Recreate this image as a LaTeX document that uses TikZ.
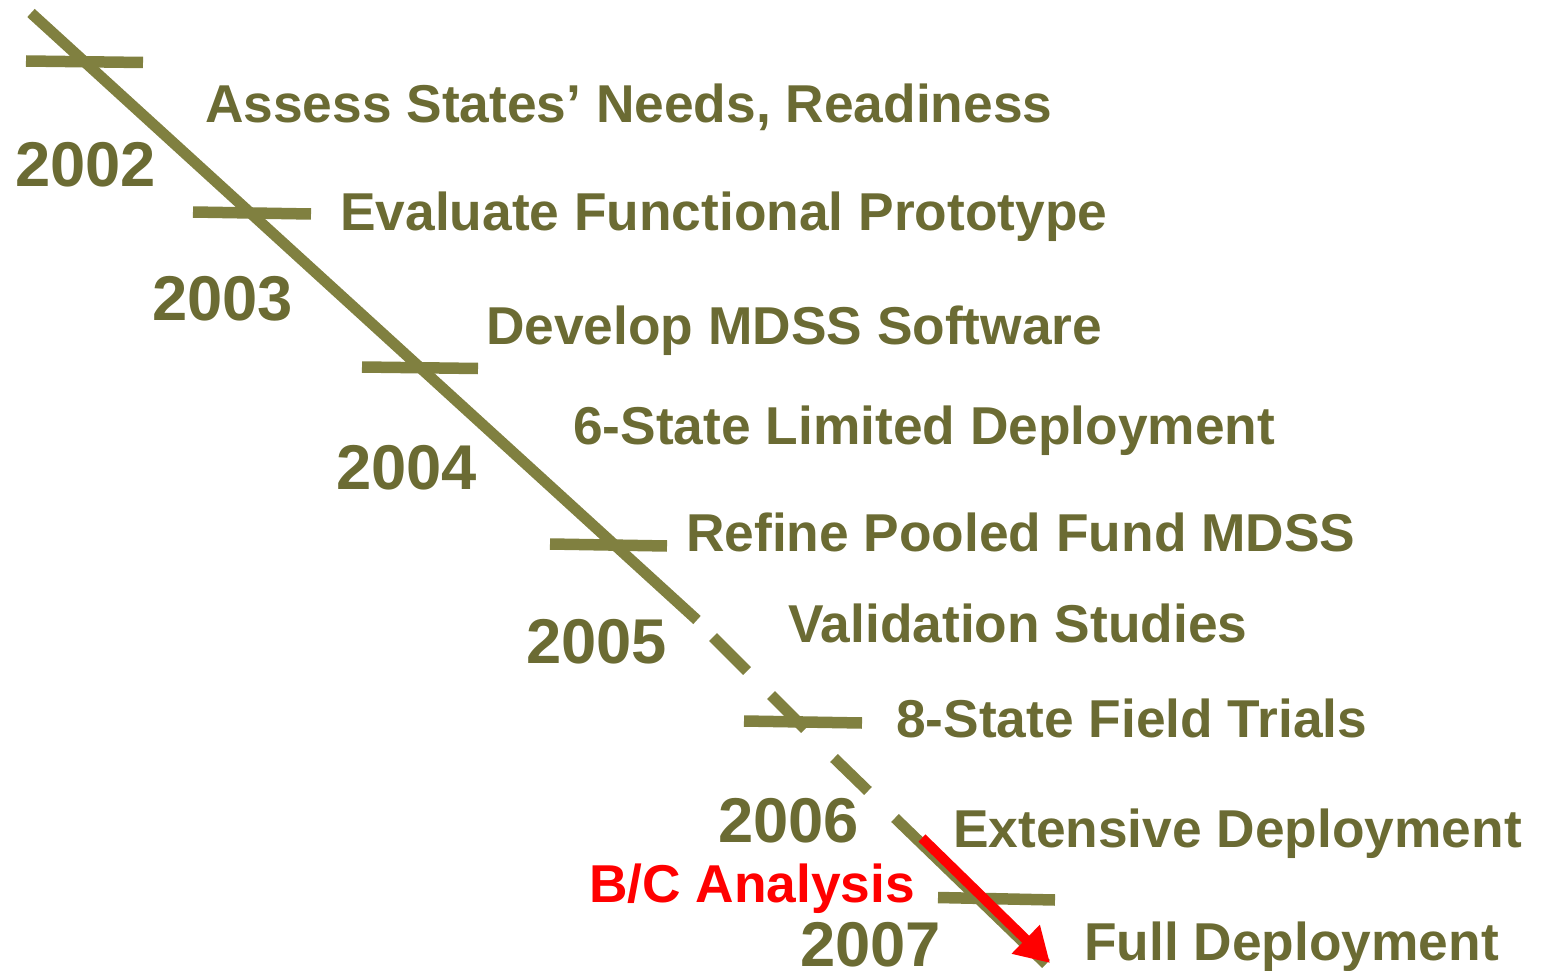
\documentclass[tikz,border=0pt]{standalone}
\usepackage{fontspec}
\setmainfont{Liberation Sans}
\usetikzlibrary{arrows.meta}
\definecolor{olivetext}{RGB}{107,107,51}
\definecolor{oliveline}{RGB}{128,128,64}
\definecolor{bcred}{RGB}{255,0,0}
\begin{document}
\begin{tikzpicture}[x=1pt,y=-1pt,
  event/.style={anchor=base west,inner sep=0pt,text=olivetext,font=\fontsize{53.3}{60}\selectfont\bfseries},
  year/.style={anchor=base west,inner sep=0pt,text=olivetext,font=\fontsize{63.3}{70}\selectfont\bfseries},
  timeline/.style={draw=oliveline,line width=11pt},
  tick/.style={draw=oliveline,line width=11.5pt},
  bcarrow/.style={draw=bcred,line width=10pt,-{Triangle[length=34pt,width=38pt]}}]
\useasboundingbox (0,0) rectangle (1543,971);
% main timeline (solid part)
\coordinate (t0) at (31,13);
\coordinate (t1) at (697,620);
\draw[timeline] (t0) -- (t1);
% dashed part
\coordinate (d1a) at (713,637);
\coordinate (d1b) at (747,671);
\coordinate (d2a) at (771,695);
\coordinate (d2b) at (805,729);
\coordinate (d3a) at (834,758);
\coordinate (d3b) at (868,791);
\coordinate (d4a) at (895,818);
\coordinate (d4b) at (1046,964);
\draw[timeline] (d1a) -- (d1b);
\draw[timeline] (d2a) -- (d2b);
\draw[timeline] (d3a) -- (d3b);
\draw[timeline] (d4a) -- (d4b);
% ticks
\draw[tick] (26,61) -- (143,62.5);
\draw[tick] (193,212) -- (311,214);
\draw[tick] (362,367) -- (478,368.5);
\draw[tick] (550,544) -- (667,546);
\draw[tick] (744,721) -- (862,723);
\draw[tick] (938,897.5) -- (1055,900);
% years
\node[year] (y2002) at (15,186) {2002};
\node[year] (y2003) at (152,320) {2003};
\node[year] (y2004) at (336,489) {2004};
\node[year] (y2005) at (526,663) {2005};
\node[year] (y2006) at (718,842) {2006};
\node[year] (y2007) at (800,966) {2007};
% events
\node[event] (e1) at (205,123) {Assess States’ Needs, Readiness};
\node[event] (e2) at (340,230) {Evaluate Functional Prototype};
\node[event] (e3) at (486,344) {Develop MDSS Software};
\node[event] (e4) at (573,444) {6-State Limited Deployment};
\node[event] (e5) at (686,551) {Refine Pooled Fund MDSS};
\node[event] (e6) at (788,642) {Validation Studies};
\node[event] (e7) at (896,737) {8-State Field Trials};
\node[event] (e8) at (953,847) {Extensive Deployment};
\node[event] (e9) at (1084,960) {Full Deployment};
\node[event,text=bcred] (bc) at (589,902) {B/C Analysis};
% red arrow
\coordinate (ra) at (922,838);
\coordinate (rb) at (1050,963);
\draw[bcarrow] (ra) -- (rb);
\end{tikzpicture}
\end{document}
